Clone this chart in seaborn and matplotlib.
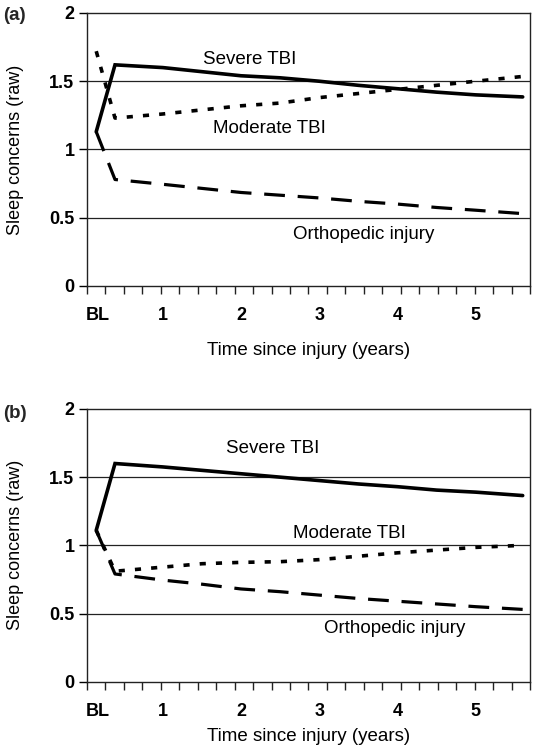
import numpy as np
import pandas as pd
import matplotlib
matplotlib.use("Agg")
import matplotlib.pyplot as plt
import seaborn as sns

# data (x in years since injury, BL point near 0.15)
time = [0.15, 0.39, 1.0, 1.5, 2.0, 2.5, 3.0, 3.5, 4.0, 4.5, 5.0, 5.6]

# panel (a)
severe_a = [1.13, 1.62, 1.60, 1.57, 1.54, 1.525, 1.50, 1.47, 1.445, 1.42, 1.40, 1.385]
moderate_a = [1.72, 1.23, 1.26, 1.29, 1.32, 1.34, 1.38, 1.41, 1.44, 1.47, 1.50, 1.535]
ortho_a = [1.13, 0.78, 0.745, 0.715, 0.685, 0.665, 0.645, 0.62, 0.60, 0.575, 0.555, 0.53]

# panel (b)
severe_b = [1.11, 1.60, 1.575, 1.55, 1.525, 1.50, 1.475, 1.45, 1.43, 1.405, 1.39, 1.365]
moderate_b = [1.11, 0.81, 0.84, 0.865, 0.875, 0.88, 0.895, 0.92, 0.945, 0.965, 0.985, 1.0]
ortho_b = [1.11, 0.79, 0.745, 0.715, 0.68, 0.66, 0.635, 0.61, 0.59, 0.57, 0.55, 0.53]

xtick_pos = [0.17, 1, 2, 3, 4, 5]
xtick_labels = ["BL", "1", "2", "3", "4", "5"]
yticks = [0, 0.5, 1, 1.5, 2]
ytick_labels = ["0", "0.5", "1", "1.5", "2"]

sns.set_theme(style="white")
plt.rcParams['font.family'] = ['Liberation Sans', 'DejaVu Sans']

XMIN, XMAX = 0.032, 5.693
ink = "#222222"

fig = plt.figure(figsize=(5.35, 7.5), dpi=100)
ax1 = fig.add_axes([0.1626, 0.6187, 0.828, 0.364])
ax2 = fig.add_axes([0.1626, 0.0911, 0.828, 0.3636])


def draw_panel(ax, severe, moderate, ortho, label_pos, xlab_y):
    df = pd.DataFrame({"time": time, "severe": severe, "moderate": moderate, "ortho": ortho})
    for y in [0.5, 1, 1.5]:
        ax.axhline(y, color=ink, lw=0.9, zorder=1)
    sns.lineplot(data=df, x="time", y="ortho", ax=ax, color="black", lw=2.3,
                 linestyle=(0, (6.5, 4)), zorder=3)
    sns.lineplot(data=df, x="time", y="moderate", ax=ax, color="black", lw=2.6,
                 linestyle=(0, (1.7, 2.8)), zorder=3)
    sns.lineplot(data=df, x="time", y="severe", ax=ax, color="black", lw=2.6,
                 solid_joinstyle="miter", zorder=4)

    ax.set_xlim(XMIN, XMAX)
    ax.set_ylim(0, 2)
    ax.set_xticks(xtick_pos)
    ax.set_xticklabels(xtick_labels, fontweight="bold", fontsize=13)
    ax.set_xticks(np.linspace(XMIN, XMAX, 25), minor=True)
    ax.tick_params(axis="x", which="major", length=0, pad=15, colors="black")
    ax.tick_params(axis="x", which="minor", length=6, width=1, color=ink, bottom=True)
    ax.set_yticks(yticks)
    ax.set_yticklabels(ytick_labels, fontweight="bold", fontsize=13)
    ax.tick_params(axis="y", length=6, width=1, color=ink, pad=3, left=True, colors="black")
    ax.tick_params(axis="y", colors="black")
    for sp in ax.spines.values():
        sp.set_color(ink)
        sp.set_linewidth(1)
        sp.set_visible(True)

    ax.set_ylabel("Sleep concerns (raw)", fontsize=13, color="black", va="center")
    ax.yaxis.set_label_coords(-0.1625, 0.5)
    ax.set_xlabel("Time since injury (years)", fontsize=13.5, color="black")
    ax.xaxis.set_label_coords(0.5, xlab_y)

    names = ["Severe TBI", "Moderate TBI", "Orthopedic injury"]
    for name, (x, y) in zip(names, label_pos):
        ax.text(x, y, name, fontsize=13.5, ha="center", va="center", color="black")


draw_panel(ax1, severe_a, moderate_a, ortho_a,
           [(2.115, 1.656), (2.36, 1.157), (3.57, 0.374)], -0.205)
draw_panel(ax2, severe_b, moderate_b, ortho_b,
           [(2.40, 1.712), (3.39, 1.088), (3.97, 0.392)], -0.17)

fig.text(0.005, 1 - 15 / 750, "(a)", fontweight="bold", fontsize=13.5, va="center")
fig.text(0.005, 1 - 413 / 750, "(b)", fontweight="bold", fontsize=13.5, va="center")

fig.savefig("out.png", dpi=100)
